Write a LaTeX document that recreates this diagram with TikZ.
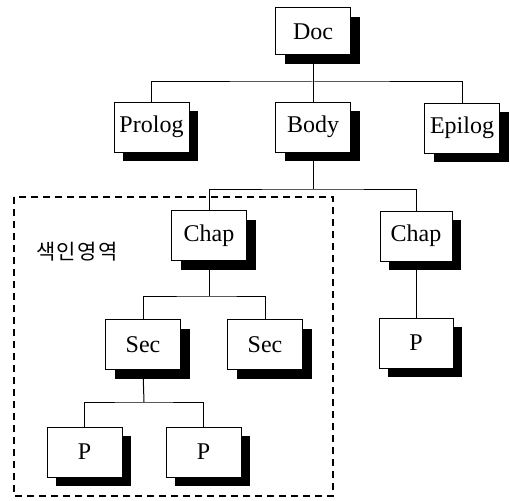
\documentclass[tikz,border=0pt]{standalone}
\usepackage{fontspec}
\setmainfont{Liberation Serif}
\newfontfamily\kofont{Noto Sans CJK KR}
\usetikzlibrary{shadows}
\tikzset{
  treebox/.style={draw=black, line width=1pt, fill=white, minimum width=75pt, minimum height=50pt, inner sep=0pt,
    font=\fontsize{24}{26}\selectfont,
    drop shadow={shadow xshift=9pt, shadow yshift=-9pt, fill=black, opacity=1}},
  link/.style={draw=black, line width=1pt},
  region/.style={draw=black, line width=1.1pt, dash pattern=on 7pt off 5pt}
}
\begin{document}
\begin{tikzpicture}[x=1pt,y=-1pt]
\useasboundingbox (0,0) rectangle (510,500);
% region
\draw[region] (14,197) rectangle (333,496);
\node[font=\kofont\fontsize{21}{23}\selectfont, inner sep=0pt] (lbl) at (77,252) {색\kern1.5pt 인\kern1.5pt 영\kern1.5pt 역};
% nodes
\node[treebox, minimum height=47pt] (doc) at (313,31.5) {Doc};
\node[treebox] (prolog) at (151.5,127) {Prolog};
\node[treebox] (body) at (313,127) {Body};
\node[treebox] (epilog) at (462,128) {Epilog};
\node[treebox] (chapL) at (209,235.5) {Chap};
\node[treebox, minimum width=72pt] (chapR) at (416,236) {Chap};
\node[treebox] (secL) at (143,344.5) {Sec};
\node[treebox] (secR) at (265,344.5) {Sec};
\node[treebox, minimum width=74pt] (pR) at (416,343) {P};
\node[treebox] (pL1) at (84.5,452) {P};
\node[treebox] (pL2) at (203.5,452) {P};
% junctions
\coordinate (j1) at (313,82);
\coordinate (j2) at (313,189);
\coordinate (j3) at (209,296);
\coordinate (j4) at (144,402);
% connectors
\draw[link] (doc.south) -- (j1);
\draw[link] (prolog.north) |- (j1) -| (epilog.north);
\draw[link] (j1) -- (body.north);
\draw[link] (body.south) -- (j2);
\draw[link] (chapL.north) |- (j2) -| (chapR.north);
\draw[link] (chapL.south) -- (j3);
\draw[link] (secL.north) |- (j3) -| (secR.north);
\draw[link] (chapR.south) -- (pR.north);
\draw[link] (secL.south) -- (j4);
\draw[link] (pL1.north) |- (j4) -| (pL2.north);
\end{tikzpicture}
\end{document}
